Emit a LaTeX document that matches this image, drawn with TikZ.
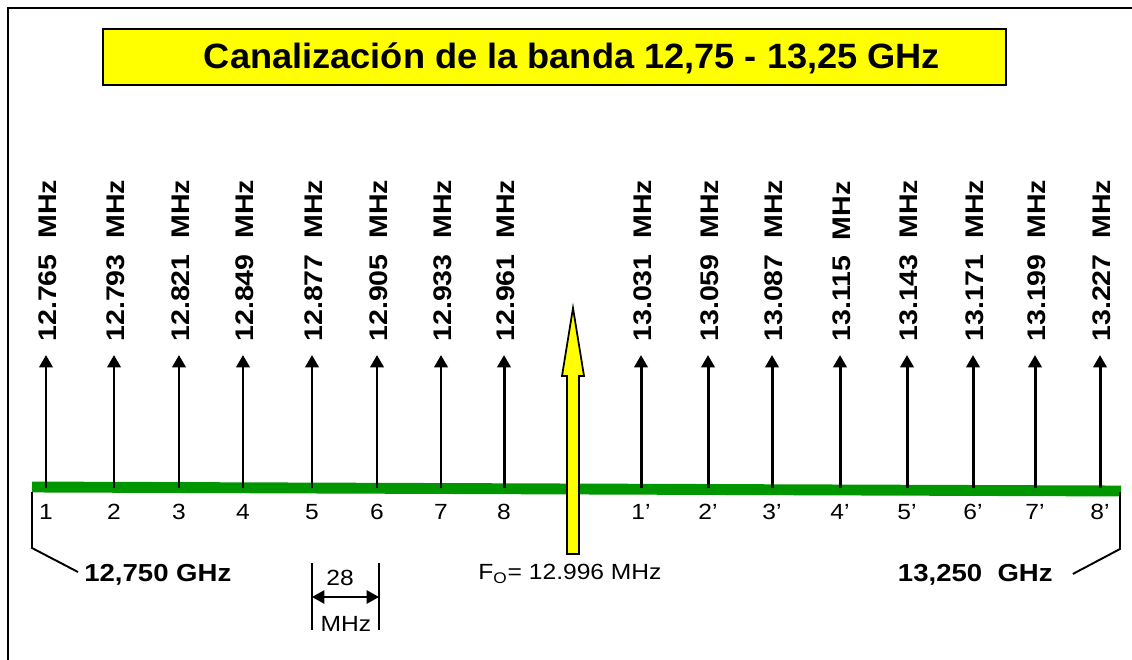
\documentclass[tikz,border=0pt]{standalone}
\usepackage{fontspec}
\setmainfont[FakeStretch=1.12]{Liberation Sans}
\newfontfamily\titfont[FakeStretch=1.03]{Liberation Sans}
\usetikzlibrary{arrows.meta}
\definecolor{banda}{RGB}{0,150,0}
\definecolor{amarillo}{RGB}{255,255,0}

\begin{document}
\begin{tikzpicture}[x=0.02cm,y=-0.02cm,>={Triangle[length=7pt,width=7.5pt]},
    canal/.style={->,line width=1.7pt},
    etiq/.style={rotate=90,anchor=west,inner sep=0pt,font=\fontsize{14.5}{17}\selectfont\bfseries},
    num/.style={inner sep=0pt,font=\fontsize{12.5}{15}\selectfont},
    ghz/.style={inner sep=0pt,font=\fontsize{14}{17}\selectfont\bfseries},
    llave/.style={line width=1.1pt}]
    \useasboundingbox (0,0) rectangle (1132,659);
    % 边框
    \draw[line width=1.2pt] (8,680) -- (8,8) -- (1150,8);
    % 标题
    \node[draw,line width=1.3pt,fill=amarillo,minimum width=18.06cm,minimum height=1.12cm] (caja) at (554.5,57) {};
    \node[font=\titfont\fontsize{20}{24}\selectfont\bfseries] (titulo) at (572,58) {Canalización de la banda 12,75 - 13,25 GHz};
    % 频带
    \draw[line width=6.2pt,banda] (32,487) -- (1121,491);
    % 各信道
    \foreach \x/\f/\n [count=\i] in {46/12.765/1, 114/12.793/2, 179/12.821/3, 243/12.849/4,
        312/12.877/5, 377/12.905/6, 441/12.933/7, 504/12.961/8,
        641/13.031/1’, 708/13.059/2’, 772/13.087/3’, 840/13.115/4’,
        907/13.143/5’, 973/13.171/6’, 1035/13.199/7’, 1100/13.227/8’}{
        \coordinate (b\i) at (\x,488);
        \coordinate (p\i) at (\x,355);
        \node[etiq] (f\i) at (\x+2,342) {\f\ \ MHz};
        \node[num] (n\i) at (\x,512) {\n};
        \draw[canal] (b\i) -- (p\i);
    }
    % 中心频率 F0
    \draw[line width=1pt,fill=amarillo] (567,554) -- (567,376) -- (562,376) -- (573,308)
        -- (584,376) -- (579,376) -- (579,554) -- cycle;
    \node[num] (fo) at (570,574) {F\textsubscript{O}= 12.996 MHz};
    % 频带边界
    \coordinate (ci) at (32,492);
    \coordinate (cf) at (1120,492);
    \node[ghz,anchor=west] (gi) at (84,575) {12,750 GHz};
    \node[ghz,anchor=east] (gf) at (1053,575) {13,250\ \ GHz};
    \draw[llave] (ci) -- (32,548) -- ([xshift=-3.4pt,yshift=1.7pt]gi.west);
    \draw[llave] (cf) -- (1120,549) -- ([xshift=11.3pt,yshift=0.6pt]gf.east);
    % 信道间隔 28 MHz
    \draw[line width=0.8pt] (312,563) -- (312,630);
    \draw[line width=0.8pt] (379,563) -- (379,630);
    \coordinate (m1) at (312,597);
    \coordinate (m2) at (379,597);
    \draw[<->,line width=1.1pt] (m1) -- (m2);
    \node[num] (sep) at (340,578) {28};
    \node[num] (sepu) at (346,624) {MHz};
\end{tikzpicture}
\end{document}
